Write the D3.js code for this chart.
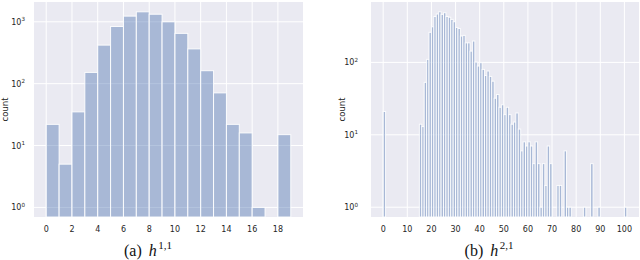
<!DOCTYPE html>
<html>
<head>
<meta charset="utf-8">
<script src="https://cdn.jsdelivr.net/npm/d3@7"></script>
<style>
  body { margin: 0; background: #fff; }
  svg { display: block; }
  .tick-label { font-family: 'DejaVu Sans', sans-serif; font-size: 8px; fill: #262626; }
  .axis-title { font-family: 'DejaVu Sans', sans-serif; font-size: 8.5px; fill: #262626; }
  .caption { font-family: 'Liberation Serif', serif; font-size: 16px; fill: #111; }
</style>
</head>
<body>
<svg id="chart" width="640" height="260"></svg>
<script>
// (a) h^{1,1} counts, one bar per integer value
const h11Values = [0, 1, 2, 3, 4, 5, 6, 7, 8, 9, 10, 11, 12, 13, 14, 15, 16, 17, 18];
const h11Counts = [22, 5, 35, 152, 420, 840, 1235, 1450, 1325, 1000, 650, 365, 162, 71, 22, 16, 1, 0, 15];
const h11XTicks = [0, 2, 4, 6, 8, 10, 12, 14, 16, 18];
const h11YTicks = [1, 10, 100, 1000];

// (b) h^{2,1} counts (only the non-empty values)
const h21Values = [0, 15, 16, 17, 18, 19, 20, 21, 22, 23, 24, 25, 26, 27, 28, 29, 30,
  31, 32, 33, 34, 35, 36, 37, 38, 39, 40, 41, 42, 43, 44, 45, 46, 47, 48, 49, 50,
  51, 52, 53, 54, 55, 56, 57, 58, 59, 60, 61, 62, 63, 64, 65, 66, 67, 68, 69,
  72, 73, 75, 76, 77, 83, 86, 89, 100];
const h21Counts = [21, 14, 13, 53, 110, 260, 310, 430, 465, 500, 460, 485, 430, 420, 392, 364, 304,
  294, 231, 236, 186, 186, 143, 197, 101, 89, 99, 80, 66, 76, 64, 55, 32, 36, 24, 26, 19,
  24, 19, 14, 15, 20, 12, 6, 8, 7, 8, 7, 4, 8, 4, 1, 4, 2, 7, 4,
  2, 2, 6, 1, 1, 1, 4, 1, 1];
const h21XTicks = [0, 10, 20, 30, 40, 50, 60, 70, 80, 90, 100];
const h21YTicks = [1, 10, 100];

class LogHistogram {

  constructor(_config, _values, _counts) {
    this.config = _config;
    this.values = _values;
    this.counts = _counts;
    this.initVis();
  }

  initVis() {
    let vis = this;
    const c = vis.config;

    vis.xScale = d3.scaleLinear().domain(c.xDomain).range([c.left, c.right]);
    vis.yScale = d3.scaleLog().domain(c.yDomain).range([c.bottom, c.top]);

    vis.g = d3.select('#chart').append('g');

    // dark grid background
    vis.g.append('rect')
      .attr('x', c.left)
      .attr('y', c.top)
      .attr('width', c.right - c.left)
      .attr('height', c.bottom - c.top)
      .attr('fill', '#eaeaf2');

    vis.g.append('clipPath')
      .attr('id', c.id + '-clip')
      .append('rect')
      .attr('x', c.left)
      .attr('y', c.top)
      .attr('width', c.right - c.left)
      .attr('height', c.bottom - c.top);

    // grid lines
    vis.g.selectAll('.hgrid')
      .data(c.yTicks)
      .join('line')
      .attr('x1', c.left)
      .attr('x2', c.right)
      .attr('y1', d => vis.yScale(d))
      .attr('y2', d => vis.yScale(d))
      .attr('stroke', '#fff')
      .attr('stroke-width', 1);

    vis.g.selectAll('.vgrid')
      .data(c.xTicks)
      .join('line')
      .attr('x1', d => vis.xScale(d))
      .attr('x2', d => vis.xScale(d))
      .attr('y1', c.top)
      .attr('y2', c.bottom)
      .attr('stroke', '#fff')
      .attr('stroke-width', 1);

    vis.renderVis();
  }

  renderVis() {
    let vis = this;
    const c = vis.config;
    const data = vis.values.map((v, i) => ({ v: v, n: vis.counts[i] })).filter(d => d.n > 0);

    vis.g.append('g')
      .attr('clip-path', `url(#${c.id}-clip)`)
      .selectAll('.bar')
      .data(data)
      .join('rect')
      .attr('class', 'bar')
      .attr('x', d => vis.xScale(d.v))
      .attr('width', d => vis.xScale(d.v + 1) - vis.xScale(d.v))
      .attr('y', d => vis.yScale(d.n))
      .attr('height', d => c.bottom - vis.yScale(d.n))
      .attr('fill', '#4c72b0')
      .attr('fill-opacity', 0.42)
      .attr('stroke', '#fff')
      .attr('stroke-opacity', 0.9)
      .attr('stroke-width', 1);

    // x tick labels
    vis.g.selectAll('.xlab')
      .data(c.xTicks)
      .join('text')
      .attr('class', 'tick-label')
      .attr('x', d => vis.xScale(d))
      .attr('y', c.bottom + 15)
      .attr('text-anchor', 'middle')
      .text(d => d);

    // y tick labels as 10^k
    const ylab = vis.g.selectAll('.ylab')
      .data(c.yTicks)
      .join('text')
      .attr('class', 'tick-label')
      .attr('x', c.left - c.yLabelPad)
      .attr('y', d => vis.yScale(d) + 3)
      .attr('text-anchor', 'end');
    ylab.append('tspan').text('10');
    ylab.append('tspan')
      .attr('dy', -3.5)
      .attr('font-size', '5.6px')
      .text(d => Math.round(Math.log10(d)));

    vis.g.append('text')
      .attr('class', 'axis-title')
      .attr('transform', `translate(${c.countX},${(c.top + c.bottom) / 2}) rotate(-90)`)
      .attr('text-anchor', 'middle')
      .text('count');

    // subfigure caption
    const cap = vis.g.append('text')
      .attr('class', 'caption')
      .attr('x', c.captionX)
      .attr('y', 256)
      .attr('text-anchor', 'middle');
    cap.append('tspan').text(c.captionTag);
    cap.append('tspan').attr('dx', 7).attr('font-style', 'italic').text('h');
    cap.append('tspan')
      .attr('dx', 1.5)
      .attr('dy', -7)
      .attr('font-size', '11px')
      .text(c.captionSup);
  }
}

new LogHistogram({
  id: 'h11',
  left: 34, right: 303, top: 2, bottom: 217,
  xDomain: [-0.95, 19.95],
  yDomain: [0.7, 2090],
  xTicks: h11XTicks,
  yTicks: h11YTicks,
  yLabelPad: 9,
  countX: 8,
  captionX: 148,
  captionTag: '(a)',
  captionSup: '1,1'
}, h11Values, h11Counts);

new LogHistogram({
  id: 'h21',
  left: 371, right: 639, top: 2, bottom: 217,
  xDomain: [-5.05, 106.05],
  yDomain: [0.733, 682],
  xTicks: h21XTicks,
  yTicks: h21YTicks,
  yLabelPad: 13,
  countX: 345,
  captionX: 489,
  captionTag: '(b)',
  captionSup: '2,1'
}, h21Values, h21Counts);
</script>
</body>
</html>
